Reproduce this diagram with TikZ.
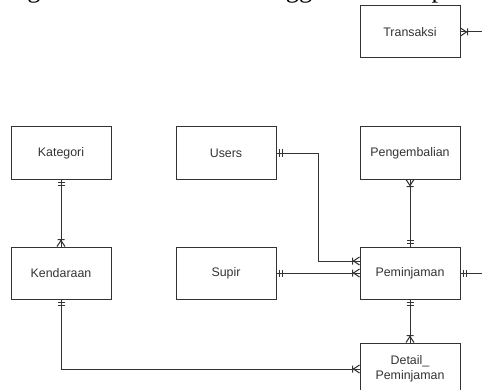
\documentclass[tikz,border=0pt]{standalone}
\usepackage{fontspec}
\setmainfont{Liberation Serif}
\newfontfamily\boxfont{Liberation Sans}
\usepackage{tikz}
\usetikzlibrary{positioning,calc}
\tikzset{
  entity/.style={draw=black!80,line width=1pt,minimum width=100pt,minimum height=52pt,
    inner sep=0pt,align=center,text=black!80,font=\boxfont\fontsize{12.4}{15.5}\selectfont},
  erline/.style={draw=black!80,line width=1pt},
  erone/.pic={\draw[erline] (3,-3.5) -- (3,3.5) (6,-3.5) -- (6,3.5);},
  ermany/.pic={\draw[erline] (0,-4) -- (6,0) -- (0,4) (7,-3.5) -- (7,3.5);}
}
\begin{document}
\begin{tikzpicture}[x=1pt,y=1pt]
  \useasboundingbox (0,0) rectangle (482,389);
  \clip (0,0) rectangle (482,389);
  % text of the page above, cut by the screenshot
  \node[anchor=base west,inner sep=0pt,font=\fontsize{26.5}{30}\selectfont] (caption) at (-11,391)
    {pengelolaan master data hingga transaksi peminjaman};
  % entities
  \node[entity] (transaksi) at (410,357) {Transaksi};
  \node[entity] (kategori) at (61,236) {Kategori};
  \node[entity] (users) at (226,236) {Users};
  \node[entity] (pengembalian) at (410,236) {Pengembalian};
  \node[entity] (kendaraan) at (61,116) {Kendaraan};
  \node[entity] (supir) at (226,116) {Supir};
  \node[entity] (peminjaman) at (410,116) {Peminjaman};
  \node[entity] (detail) at (410,20) {Detail\_\\Peminjaman};
  \coordinate (transaksiout) at (482,357);
  \coordinate (peminjamanout) at (482,116);
  \coordinate (usersbend) at (318,236);
  % relations
  \draw[erline] (kategori) -- (kendaraan);
  \pic[rotate=-90] at (kategori.south) {erone};
  \pic[rotate=90] at (kendaraan.north) {ermany};
  \draw[erline] (users.east) -- (usersbend) |- ($(peminjaman.west)+(0,12)$);
  \pic at (users.east) {erone};
  \pic[rotate=180] at ($(peminjaman.west)+(0,12)$) {ermany};
  \draw[erline] (supir) -- (peminjaman);
  \pic at (supir.east) {erone};
  \pic[rotate=180] at (peminjaman.west) {ermany};
  \draw[erline] (pengembalian) -- (peminjaman);
  \pic[rotate=-90] at (pengembalian.south) {ermany};
  \pic[rotate=90] at (peminjaman.north) {erone};
  \draw[erline] (peminjaman) -- (detail);
  \pic[rotate=-90] at (peminjaman.south) {erone};
  \pic[rotate=90] at (detail.north) {ermany};
  \draw[erline] (kendaraan.south) |- (detail.west);
  \pic[rotate=-90] at (kendaraan.south) {erone};
  \pic[rotate=180] at (detail.west) {ermany};
  \draw[erline] (peminjaman.east) -- (peminjamanout);
  \pic at (peminjaman.east) {erone};
  \draw[erline] (transaksi.east) -- (transaksiout);
  \pic at (transaksi.east) {ermany};
\end{tikzpicture}
\end{document}
